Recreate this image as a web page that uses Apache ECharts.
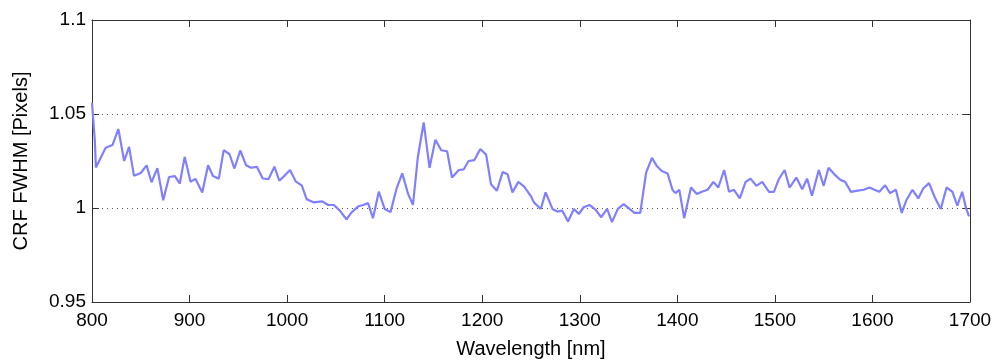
<!DOCTYPE html>
<html>
<head>
<meta charset="utf-8">
<script src="https://cdn.jsdelivr.net/npm/echarts@6/dist/echarts.min.js"></script>
<style>
  html, body { margin: 0; padding: 0; background: #fff; }
  #chart { width: 998px; height: 364px; }
</style>
</head>
<body>
<div id="chart"></div>
<script>
// wavelength (nm)
const wavelength = [
  800, 803, 804, 814, 821, 827, 833, 838, 843, 850,
  856, 861, 867, 873, 879, 885, 890, 895, 901, 906,
  913, 919, 924, 930, 935, 941, 946, 952, 958, 963,
  969, 975, 981, 987, 992, 998, 1003, 1009, 1015, 1020,
  1027, 1036, 1042, 1048, 1054, 1061, 1066, 1073, 1078, 1083,
  1088, 1094, 1100, 1106, 1112, 1118, 1124, 1129, 1134, 1140,
  1146, 1152, 1158, 1164, 1169, 1176, 1181, 1186, 1192, 1198,
  1204, 1209, 1215, 1221, 1226, 1231, 1237, 1243, 1250, 1253,
  1260, 1265, 1272, 1277, 1282, 1288, 1294, 1299, 1304, 1310,
  1316, 1322, 1328, 1333, 1339, 1345, 1351, 1356, 1362, 1368,
  1374, 1379, 1384, 1390, 1395, 1398, 1402, 1407, 1414, 1420,
  1425, 1431, 1437, 1442, 1448, 1453, 1458, 1464, 1470, 1475,
  1481, 1487, 1494, 1499, 1504, 1510, 1515, 1522, 1528, 1533,
  1538, 1545, 1550, 1555, 1561, 1567, 1572, 1578, 1585, 1591,
  1597, 1602, 1607, 1613, 1618, 1624, 1630, 1635, 1641, 1647,
  1652, 1658, 1664, 1670, 1676, 1682, 1687, 1692, 1696, 1699
]

// CRF FWHM in pixels
const fwhm = [
  1.0560, 1.0350, 1.0215, 1.0320, 1.0335, 1.0420, 1.0250, 1.0325, 1.0172, 1.0186,
  1.0227, 1.0137, 1.0212, 1.0041, 1.0165, 1.0170, 1.0130, 1.0272, 1.0140, 1.0155,
  1.0083, 1.0227, 1.0170, 1.0156, 1.0308, 1.0286, 1.0210, 1.0306, 1.0227, 1.0214,
  1.0219, 1.0157, 1.0154, 1.0220, 1.0145, 1.0175, 1.0202, 1.0140, 1.0120, 1.0047,
  1.0030, 1.0035, 1.0016, 1.0016, 0.9986, 0.9939, 0.9977, 1.0009, 1.0016, 1.0026,
  0.9946, 1.0087, 0.9995, 0.9978, 1.0100, 1.0184, 1.0075, 1.0017, 1.0270, 1.0455,
  1.0214, 1.0363, 1.0307, 1.0302, 1.0162, 1.0202, 1.0205, 1.0250, 1.0255, 1.0314,
  1.0284, 1.0126, 1.0092, 1.0192, 1.0179, 1.0083, 1.0139, 1.0114, 1.0062, 1.0030,
  0.9995, 1.0083, 0.9995, 0.9981, 0.9986, 0.9928, 0.9995, 0.9968, 1.0004, 1.0016,
  0.9992, 0.9951, 0.9995, 0.9925, 0.9995, 1.0021, 0.9995, 0.9974, 0.9974, 1.0188,
  1.0267, 1.0223, 1.0197, 1.0184, 1.0097, 1.0079, 1.0097, 0.9946, 1.0109, 1.0074,
  1.0086, 1.0097, 1.0139, 1.0109, 1.0202, 1.0086, 1.0097, 1.0051, 1.0139, 1.0156,
  1.0118, 1.0139, 1.0086, 1.0086, 1.0153, 1.0202, 1.0109, 1.0162, 1.0100, 1.0156,
  1.0065, 1.0202, 1.0118, 1.0214, 1.0179, 1.0150, 1.0139, 1.0086, 1.0092, 1.0097,
  1.0109, 1.0097, 1.0086, 1.0121, 1.0079, 1.0097, 0.9974, 1.0044, 1.0097, 1.0051,
  1.0104, 1.0132, 1.0056, 0.9995, 1.0109, 1.0086, 1.0013, 1.0086, 0.9998, 0.9956
]

const xTicks = { min: 800, max: 1700, interval: 100 }
const yTicks = { min: 0.95, max: 1.1, interval: 0.05 }

const font = 'Liberation Sans, Arial, sans-serif'
const axisColor = '#333'

const chart = echarts.init(document.getElementById('chart'))

const boxAxis = (extra) => Object.assign({
  axisLine: { show: true, onZero: false, lineStyle: { color: axisColor, width: 1 } },
  axisTick: { show: true, inside: true, length: 7, lineStyle: { color: axisColor } },
  axisLabel: { show: false },
  splitLine: { show: false }
}, extra)

chart.setOption({
  animation: false,
  backgroundColor: '#fff',
  grid: { left: 92, right: 28, top: 20, bottom: 59, containLabel: false },
  xAxis: [
    boxAxis({
      type: 'value',
      position: 'bottom',
      min: xTicks.min, max: xTicks.max, interval: xTicks.interval,
      name: 'Wavelength [nm]',
      nameLocation: 'middle',
      nameGap: 37,
      nameTextStyle: { fontFamily: font, fontSize: 20, color: '#000' },
      axisLabel: {
        show: true, margin: 9, fontFamily: font, fontSize: 19, color: '#000',
        formatter: v => String(v)
      }
    }),
    boxAxis({
      type: 'value',
      position: 'top',
      min: xTicks.min, max: xTicks.max, interval: xTicks.interval
    })
  ],
  yAxis: [
    boxAxis({
      type: 'value',
      position: 'left',
      min: yTicks.min, max: yTicks.max, interval: yTicks.interval,
      name: 'CRF FWHM [Pixels]',
      nameLocation: 'middle',
      nameGap: 61,
      nameTextStyle: { fontFamily: font, fontSize: 20, color: '#000' },
      axisLabel: {
        show: true, margin: 6, fontFamily: font, fontSize: 19, color: '#000',
        formatter: v => String(+v.toFixed(2))
      },
      splitLine: { show: true, lineStyle: { color: '#555', type: [1, 4], width: 1 } }
    }),
    boxAxis({
      type: 'value',
      position: 'right',
      min: yTicks.min, max: yTicks.max, interval: yTicks.interval
    })
  ],
  series: [{
    type: 'line',
    data: wavelength.map((w, i) => [w, fwhm[i]]),
    showSymbol: false,
    symbol: 'none',
    lineStyle: { color: '#8080ff', width: 2.2 },
    z: 3
  }]
})
</script>
</body>
</html>
